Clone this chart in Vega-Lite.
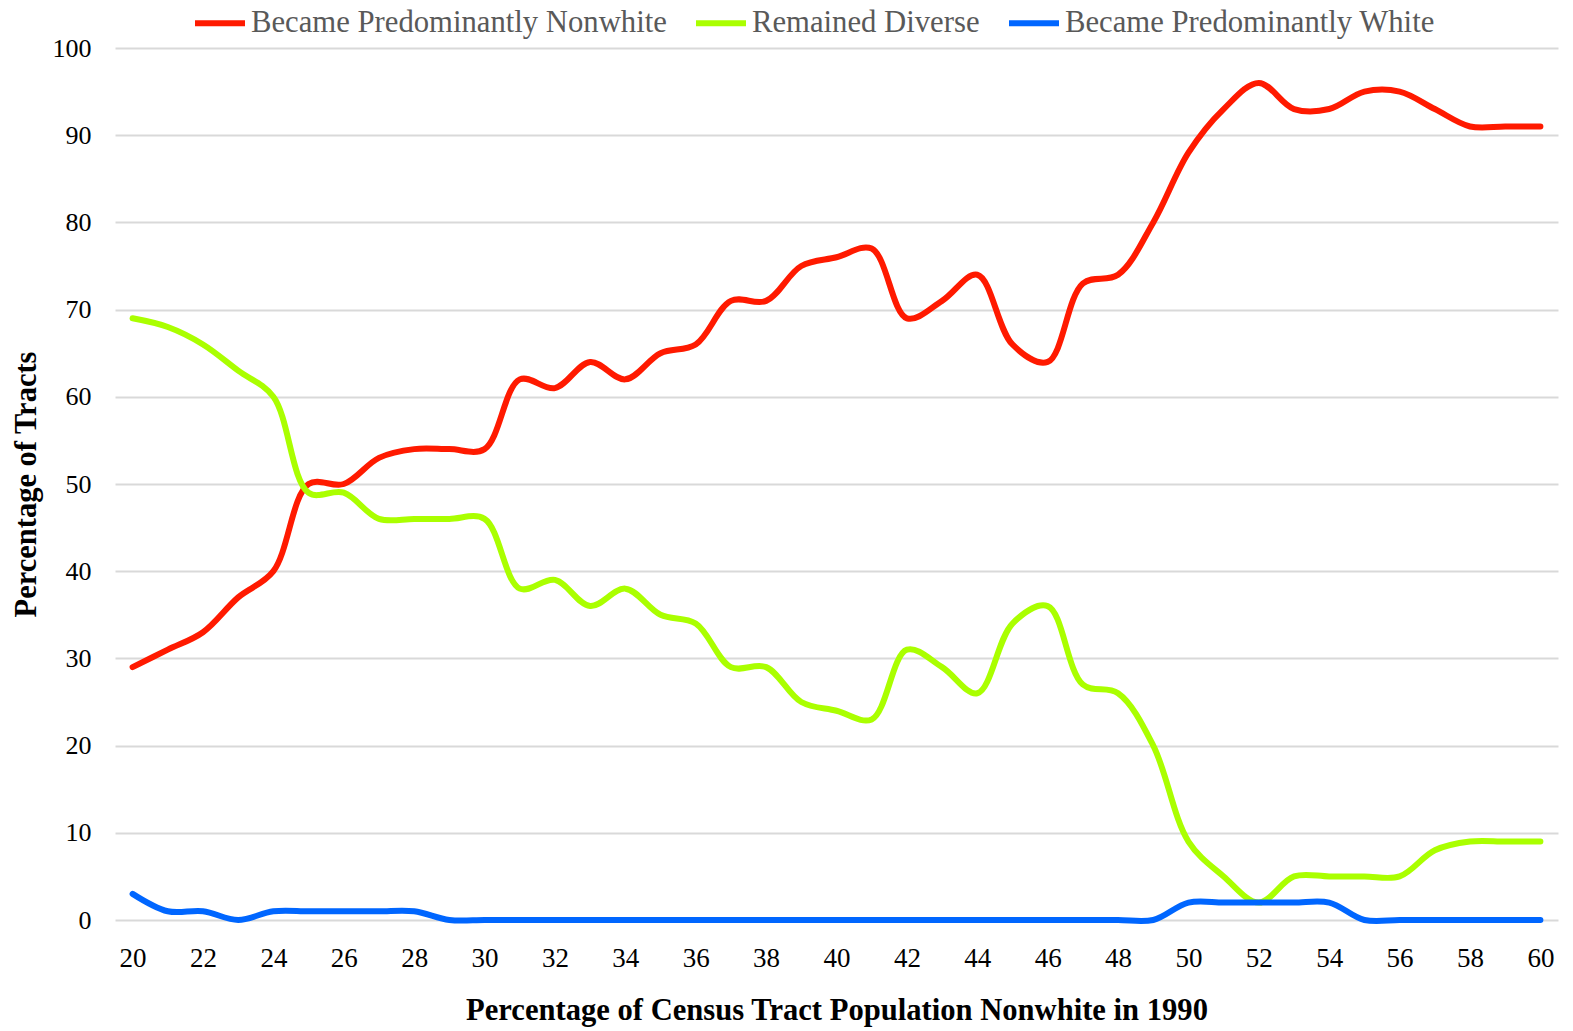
{
  "$schema": "https://vega.github.io/schema/vega-lite/v6.json",
  "autosize": {"type": "none"},
  "width": 1443,
  "height": 872,
  "padding": {"left": 115, "top": 48, "right": 15, "bottom": 111},
  "background": "white",
  "config": {
    "font": "Liberation Serif",
    "view": {"stroke": null}
  },
  "data": {
    "values": [
      {"x":20,"s":"Became Predominantly Nonwhite","v":29},{"x":21,"s":"Became Predominantly Nonwhite","v":31},{"x":22,"s":"Became Predominantly Nonwhite","v":33},{"x":23,"s":"Became Predominantly Nonwhite","v":37},{"x":24,"s":"Became Predominantly Nonwhite","v":40},{"x":25,"s":"Became Predominantly Nonwhite","v":50},{"x":26,"s":"Became Predominantly Nonwhite","v":50},{"x":27,"s":"Became Predominantly Nonwhite","v":53},{"x":28,"s":"Became Predominantly Nonwhite","v":54},{"x":29,"s":"Became Predominantly Nonwhite","v":54},{"x":30,"s":"Became Predominantly Nonwhite","v":54},{"x":31,"s":"Became Predominantly Nonwhite","v":62},{"x":32,"s":"Became Predominantly Nonwhite","v":61},{"x":33,"s":"Became Predominantly Nonwhite","v":64},{"x":34,"s":"Became Predominantly Nonwhite","v":62},{"x":35,"s":"Became Predominantly Nonwhite","v":65},{"x":36,"s":"Became Predominantly Nonwhite","v":66},{"x":37,"s":"Became Predominantly Nonwhite","v":71},{"x":38,"s":"Became Predominantly Nonwhite","v":71},{"x":39,"s":"Became Predominantly Nonwhite","v":75},{"x":40,"s":"Became Predominantly Nonwhite","v":76},{"x":41,"s":"Became Predominantly Nonwhite","v":77},{"x":42,"s":"Became Predominantly Nonwhite","v":69},{"x":43,"s":"Became Predominantly Nonwhite","v":71},{"x":44,"s":"Became Predominantly Nonwhite","v":74},{"x":45,"s":"Became Predominantly Nonwhite","v":66},{"x":46,"s":"Became Predominantly Nonwhite","v":64},{"x":47,"s":"Became Predominantly Nonwhite","v":73},{"x":48,"s":"Became Predominantly Nonwhite","v":74},{"x":49,"s":"Became Predominantly Nonwhite","v":80},{"x":50,"s":"Became Predominantly Nonwhite","v":88},{"x":51,"s":"Became Predominantly Nonwhite","v":93},{"x":52,"s":"Became Predominantly Nonwhite","v":96},{"x":53,"s":"Became Predominantly Nonwhite","v":93},{"x":54,"s":"Became Predominantly Nonwhite","v":93},{"x":55,"s":"Became Predominantly Nonwhite","v":95},{"x":56,"s":"Became Predominantly Nonwhite","v":95},{"x":57,"s":"Became Predominantly Nonwhite","v":93},{"x":58,"s":"Became Predominantly Nonwhite","v":91},{"x":59,"s":"Became Predominantly Nonwhite","v":91},{"x":60,"s":"Became Predominantly Nonwhite","v":91},
      {"x":20,"s":"Remained Diverse","v":69},{"x":21,"s":"Remained Diverse","v":68},{"x":22,"s":"Remained Diverse","v":66},{"x":23,"s":"Remained Diverse","v":63},{"x":24,"s":"Remained Diverse","v":60},{"x":25,"s":"Remained Diverse","v":49},{"x":26,"s":"Remained Diverse","v":49},{"x":27,"s":"Remained Diverse","v":46},{"x":28,"s":"Remained Diverse","v":46},{"x":29,"s":"Remained Diverse","v":46},{"x":30,"s":"Remained Diverse","v":46},{"x":31,"s":"Remained Diverse","v":38},{"x":32,"s":"Remained Diverse","v":39},{"x":33,"s":"Remained Diverse","v":36},{"x":34,"s":"Remained Diverse","v":38},{"x":35,"s":"Remained Diverse","v":35},{"x":36,"s":"Remained Diverse","v":34},{"x":37,"s":"Remained Diverse","v":29},{"x":38,"s":"Remained Diverse","v":29},{"x":39,"s":"Remained Diverse","v":25},{"x":40,"s":"Remained Diverse","v":24},{"x":41,"s":"Remained Diverse","v":23},{"x":42,"s":"Remained Diverse","v":31},{"x":43,"s":"Remained Diverse","v":29},{"x":44,"s":"Remained Diverse","v":26},{"x":45,"s":"Remained Diverse","v":34},{"x":46,"s":"Remained Diverse","v":36},{"x":47,"s":"Remained Diverse","v":27},{"x":48,"s":"Remained Diverse","v":26},{"x":49,"s":"Remained Diverse","v":20},{"x":50,"s":"Remained Diverse","v":9},{"x":51,"s":"Remained Diverse","v":5},{"x":52,"s":"Remained Diverse","v":2},{"x":53,"s":"Remained Diverse","v":5},{"x":54,"s":"Remained Diverse","v":5},{"x":55,"s":"Remained Diverse","v":5},{"x":56,"s":"Remained Diverse","v":5},{"x":57,"s":"Remained Diverse","v":8},{"x":58,"s":"Remained Diverse","v":9},{"x":59,"s":"Remained Diverse","v":9},{"x":60,"s":"Remained Diverse","v":9},
      {"x":20,"s":"Became Predominantly White","v":3},{"x":21,"s":"Became Predominantly White","v":1},{"x":22,"s":"Became Predominantly White","v":1},{"x":23,"s":"Became Predominantly White","v":0},{"x":24,"s":"Became Predominantly White","v":1},{"x":25,"s":"Became Predominantly White","v":1},{"x":26,"s":"Became Predominantly White","v":1},{"x":27,"s":"Became Predominantly White","v":1},{"x":28,"s":"Became Predominantly White","v":1},{"x":29,"s":"Became Predominantly White","v":0},{"x":30,"s":"Became Predominantly White","v":0},{"x":31,"s":"Became Predominantly White","v":0},{"x":32,"s":"Became Predominantly White","v":0},{"x":33,"s":"Became Predominantly White","v":0},{"x":34,"s":"Became Predominantly White","v":0},{"x":35,"s":"Became Predominantly White","v":0},{"x":36,"s":"Became Predominantly White","v":0},{"x":37,"s":"Became Predominantly White","v":0},{"x":38,"s":"Became Predominantly White","v":0},{"x":39,"s":"Became Predominantly White","v":0},{"x":40,"s":"Became Predominantly White","v":0},{"x":41,"s":"Became Predominantly White","v":0},{"x":42,"s":"Became Predominantly White","v":0},{"x":43,"s":"Became Predominantly White","v":0},{"x":44,"s":"Became Predominantly White","v":0},{"x":45,"s":"Became Predominantly White","v":0},{"x":46,"s":"Became Predominantly White","v":0},{"x":47,"s":"Became Predominantly White","v":0},{"x":48,"s":"Became Predominantly White","v":0},{"x":49,"s":"Became Predominantly White","v":0},{"x":50,"s":"Became Predominantly White","v":2},{"x":51,"s":"Became Predominantly White","v":2},{"x":52,"s":"Became Predominantly White","v":2},{"x":53,"s":"Became Predominantly White","v":2},{"x":54,"s":"Became Predominantly White","v":2},{"x":55,"s":"Became Predominantly White","v":0},{"x":56,"s":"Became Predominantly White","v":0},{"x":57,"s":"Became Predominantly White","v":0},{"x":58,"s":"Became Predominantly White","v":0},{"x":59,"s":"Became Predominantly White","v":0},{"x":60,"s":"Became Predominantly White","v":0}
    ]
  },
  "mark": {"type": "line", "interpolate": "catmull-rom", "strokeWidth": 6, "strokeCap": "round", "strokeJoin": "round", "clip": false},
  "encoding": {
    "x": {
      "field": "x", "type": "quantitative",
      "scale": {"domain": [19.5, 60.5], "nice": false, "zero": false},
      "axis": {
        "values": [20,22,24,26,28,30,32,34,36,38,40,42,44,46,48,50,52,54,56,58,60],
        "grid": false, "domain": false, "ticks": false,
        "labelFont": "Liberation Serif", "labelFontSize": 27, "labelColor": "#000000", "labelPadding": 25,
        "title": "Percentage of Census Tract Population Nonwhite in 1990",
        "titleFont": "Liberation Serif", "titleFontSize": 30.6, "titleFontWeight": "bold", "titleColor": "#000000", "titlePadding": 24
      }
    },
    "y": {
      "field": "v", "type": "quantitative",
      "scale": {"domain": [0, 100], "nice": false},
      "axis": {
        "values": [0,10,20,30,40,50,60,70,80,90,100],
        "grid": true, "gridColor": "#d9d9d9", "gridWidth": 2,
        "domain": false, "ticks": false,
        "labelFont": "Liberation Serif", "labelFontSize": 26, "labelColor": "#000000", "labelPadding": 24,
        "title": "Percentage of Tracts",
        "titleFont": "Liberation Serif", "titleFontSize": 30.5, "titleFontWeight": "bold", "titleColor": "#000000", "titlePadding": 11
      }
    },
    "color": {
      "field": "s", "type": "nominal",
      "scale": {
        "domain": ["Became Predominantly Nonwhite", "Remained Diverse", "Became Predominantly White"],
        "range": ["#ff1a00", "#aaff00", "#0066ff"]
      },
      "legend": {
        "title": null, "orient": "none", "direction": "horizontal",
        "legendX": 77, "legendY": -53,
        "symbolType": "stroke", "symbolStrokeWidth": 6, "symbolSize": 2500,
        "labelFont": "Liberation Serif", "labelFontSize": 30.7, "labelColor": "#595959",
        "labelOffset": 3, "columnPadding": 17, "labelLimit": 700
      }
    }
  }
}
